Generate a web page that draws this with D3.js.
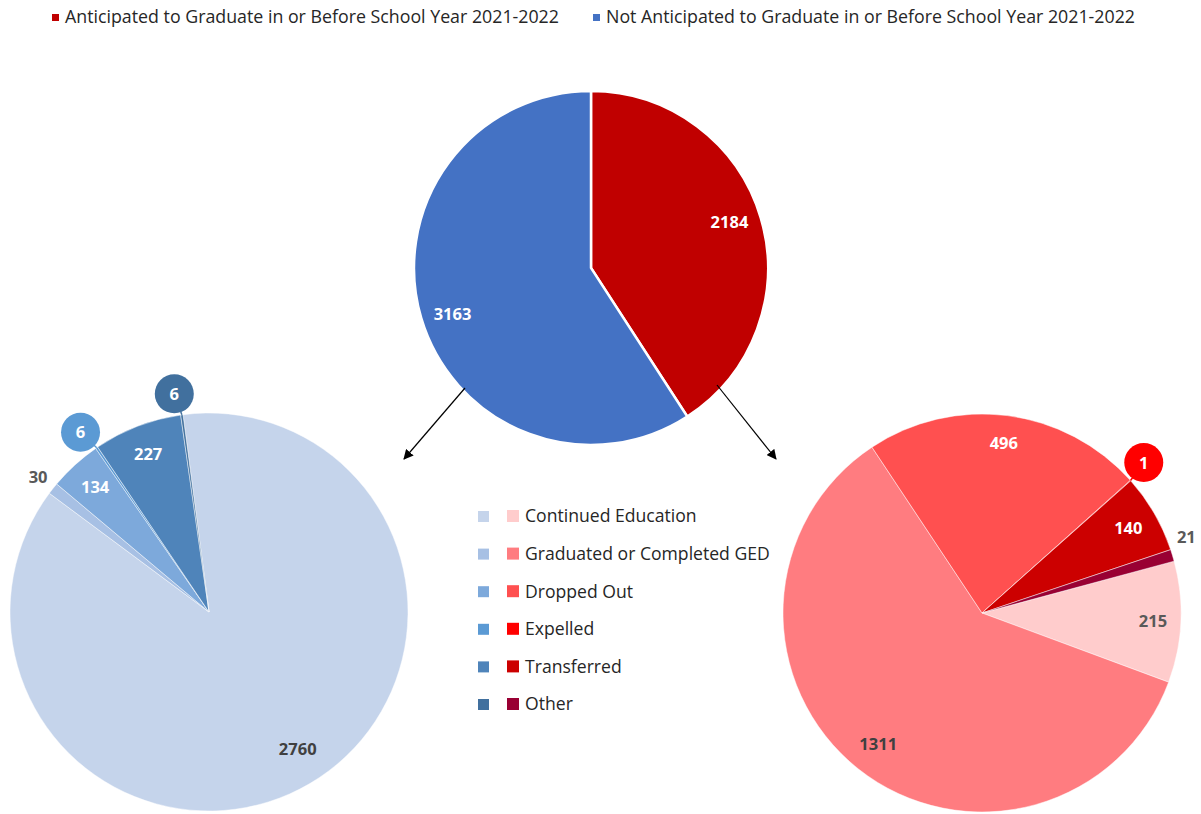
<!DOCTYPE html>
<html><head><meta charset="utf-8">
<script src="https://cdn.jsdelivr.net/npm/d3@7"></script>
<style>
html,body{margin:0;padding:0;background:#fff;}
svg{display:block;font-family:"Open Sans",Lato,sans-serif;}
</style></head>
<body>
<svg id="c" width="1201" height="814"></svg>
<script>
// ---- data ----
const topCategories = ["Anticipated to Graduate in or Before School Year 2021-2022","Not Anticipated to Graduate in or Before School Year 2021-2022"];
const topValues = [2184, 3163];
const topColors = ["#C00000", "#4472C4"];

const outcomeCategories = ["Continued Education","Graduated or Completed GED","Dropped Out","Expelled","Transferred","Other"];
const notAnticipatedValues = [2760, 30, 134, 6, 227, 6];
const anticipatedValues = [215, 1311, 496, 1, 140, 21];
const blueShades = ["#C5D4EB","#A7C0E4","#7DA9DB","#5B9AD4","#4F84BA","#41709E"];
const redShades = ["#FFCCCC","#FF7C80","#FF5050","#FF0000","#CC0000","#990033"];

// ---- layout ----
const svg = d3.select("#c");
const deg = Math.PI/180;
// label modes per slice: "in" inside, "out" plain outside, "call" bubble callout
const leftLabelMode = ["in","out","in","call","in","call"];
const leftLabelColor = ["#404040","#595959","#fff","#fff","#fff","#fff"];
const leftLabelNudge = [-2.5,0,0,0,0,0];
const leftLabelRad = [0.82,1.095,0.85,1.11,0.85,1.11];
const rightLabelMode = ["in","in","in","call","in","out"];
const rightLabelColor = ["#595959","#404040","#fff","#fff","#fff","#595959"];
const rightLabelNudge = [0,0,0,0,0,-3.5];
const rightLabelRad = [0.86,0.84,0.86,1.11,0.85,1.095];
const labelFont = 16.5;

function drawPie(g, values, colors, opts){
  const pie = d3.pie().sort(null).value(d=>d)
    .startAngle(opts.start*deg).endAngle(opts.start*deg + 2*Math.PI);
  const arcs = pie(values);
  const arc = d3.arc().innerRadius(0).outerRadius(opts.r);
  g.selectAll("path.s").data(arcs).join("path").attr("class","s")
    .attr("d", arc).attr("fill",(d,i)=>colors[i])
    .attr("stroke", opts.stroke).attr("stroke-width", opts.strokeW).attr("stroke-opacity", opts.strokeO);
  return arcs;
}
function polar(a, r){ return [Math.sin(a)*r, -Math.cos(a)*r]; }

// Top pie
const gTop = svg.append("g").attr("transform","translate(591,268)");
const topArcs = drawPie(gTop, topValues, topColors, {start:0, r:177, stroke:"#fff", strokeW:2.5, strokeO:1});
gTop.selectAll("text").data(topArcs).join("text")
  .attr("transform", d=>{const p=polar((d.startAngle+d.endAngle)/2 - 2*deg, 177*0.825); return `translate(${p})`;})
  .attr("text-anchor","middle").attr("dy","0.36em")
  .attr("fill","#fff").attr("font-weight","bold").attr("font-size",labelFont)
  .text(d=>d.data);

// Arrows
const defs = svg.append("defs");
defs.append("marker").attr("id","ah").attr("viewBox","0 0 10 10").attr("refX",9).attr("refY",5)
  .attr("markerWidth",10).attr("markerHeight",10).attr("markerUnits","userSpaceOnUse").attr("orient","auto")
  .append("path").attr("d","M0,0 L10,5 L0,10 z").attr("fill","#000");
const arrows = [[465,388,404,459],[717,385,776,459]];
svg.selectAll("line.ar").data(arrows).join("line").attr("class","ar")
  .attr("x1",d=>d[0]).attr("y1",d=>d[1]).attr("x2",d=>d[2]).attr("y2",d=>d[3])
  .attr("stroke","#000").attr("stroke-width",1.2).attr("marker-end","url(#ah)");

// Sub pies
function drawSub(cx, cy, values, colors, start, modes, lcolors, nudges, rads){
  const R = 199;
  const g = svg.append("g").attr("transform",`translate(${cx},${cy})`);
  const arcs = drawPie(g, values, colors, {start, r:R, stroke:"#fff", strokeW:0.8, strokeO:0.6});
  arcs.forEach((d,i)=>{
    const mid=(d.startAngle+d.endAngle)/2 + nudges[i]*deg;
    const mode=modes[i];
    if(mode==="in" || mode==="out"){
      const p=polar(mid, R*rads[i]);
      g.append("text").attr("x",p[0]).attr("y",p[1]).attr("dy","0.36em").attr("text-anchor","middle")
        .attr("fill",lcolors[i]).attr("font-weight","bold").attr("font-size",labelFont).text(d.data);
    } else {
      const p=polar(mid-1.2*deg, R*rads[i]);
      const e=polar(mid, R);
      g.append("line").attr("x1",p[0]).attr("y1",p[1]).attr("x2",e[0]).attr("y2",e[1])
        .attr("stroke",colors[i]).attr("stroke-width",1.5);
      g.append("circle").attr("cx",p[0]).attr("cy",p[1]).attr("r",19.5).attr("fill",colors[i]);
      g.append("text").attr("x",p[0]).attr("y",p[1]).attr("dy","0.36em").attr("text-anchor","middle")
        .attr("fill",lcolors[i]).attr("font-weight","bold").attr("font-size",labelFont).text(d.data);
    }
  });
}
drawSub(209, 612, notAnticipatedValues, blueShades, -7.5, leftLabelMode, leftLabelColor, leftLabelNudge, leftLabelRad);
drawSub(982, 613, anticipatedValues, redShades, 74.9, rightLabelMode, rightLabelColor, rightLabelNudge, rightLabelRad);

// Top legend
const legX = [52, 593];
topCategories.forEach((c,i)=>{
  svg.append("rect").attr("x",legX[i]).attr("y",14).attr("width",7).attr("height",7).attr("fill",topColors[i]);
  svg.append("text").attr("x",legX[i]+13).attr("y",23)
    .attr("font-size",17.8).attr("fill","#262626").text(c);
});

// Middle legend
const rowY = d3.scalePoint().domain(outcomeCategories).range([516, 704]);
outcomeCategories.forEach((c,i)=>{
  const y=rowY(c);
  svg.append("rect").attr("x",478).attr("y",y-5).attr("width",11).attr("height",11).attr("fill",blueShades[i]);
  svg.append("rect").attr("x",507).attr("y",y-6).attr("width",12).attr("height",12).attr("fill",redShades[i]);
  svg.append("text").attr("x",525).attr("y",y).attr("dy","0.36em")
    .attr("font-size",17.6).attr("fill","#262626").text(c);
});
</script>
</body></html>
